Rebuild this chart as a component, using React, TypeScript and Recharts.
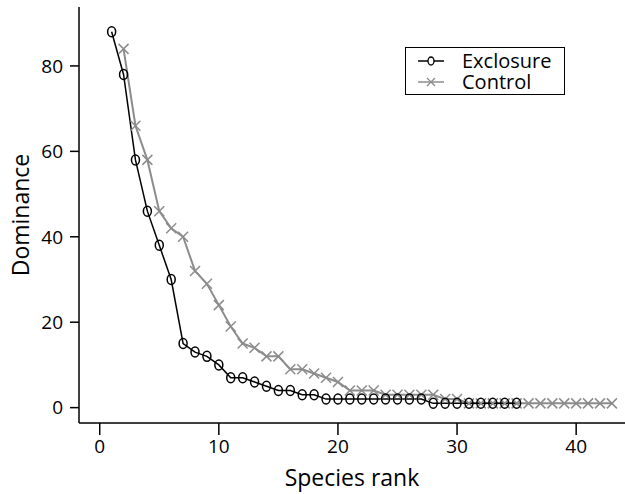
import { LineChart, Line, XAxis, YAxis, Legend } from 'recharts';

const exclosureRanks = [1, 2, 3, 4, 5, 6, 7, 8, 9, 10, 11, 12, 13, 14, 15, 16, 17, 18, 19, 20, 21, 22, 23, 24, 25, 26, 27, 28, 29, 30, 31, 32, 33, 34, 35];
const exclosureValues = [88, 78, 58, 46, 38, 30, 15, 13, 12, 10, 7, 7, 6, 5, 4, 4, 3, 3, 2, 2, 2, 2, 2, 2, 2, 2, 2, 1, 1, 1, 1, 1, 1, 1, 1];

const controlRanks = [2, 3, 4, 5, 6, 7, 8, 9, 10, 11, 12, 13, 14, 15, 16, 17, 18, 19, 20, 21, 22, 23, 24, 25, 26, 27, 28, 29, 30, 31, 32, 33, 34, 35, 36, 37, 38, 39, 40, 41, 42, 43];
const controlValues = [84, 66, 58, 46, 42, 40, 32, 29, 24, 19, 15, 14, 12, 12, 9, 9, 8, 7, 6, 4, 4, 4, 3, 3, 3, 3, 3, 2, 2, 1, 1, 1, 1, 1, 1, 1, 1, 1, 1, 1, 1, 1];

const xTicks = [0, 10, 20, 30, 40];
const yTicks = [0, 20, 40, 60, 80];

const exclosureData = exclosureRanks.map((rank, i) => ({ rank, value: exclosureValues[i] }));
const controlData = controlRanks.map((rank, i) => ({ rank, value: controlValues[i] }));

const FONT = '"Open Sans", sans-serif';
const GREY = '#8c8c8c';

function CircleDot(props: any) {
  const { cx, cy, index } = props;
  if (cx == null || cy == null) return <g key={index} />;
  return <ellipse key={index} cx={cx} cy={cy} rx={4} ry={5} fill="none" stroke="#000" strokeWidth={1.5} />;
}

function CrossDot(props: any) {
  const { cx, cy, index } = props;
  if (cx == null || cy == null) return <g key={index} />;
  const s = 5;
  return (
    <path
      key={index}
      d={`M${cx - s},${cy - s}L${cx + s},${cy + s}M${cx - s},${cy + s}L${cx + s},${cy - s}`}
      stroke={GREY}
      strokeWidth={1.5}
      fill="none"
    />
  );
}

function LegendBox() {
  const row = { display: 'flex', alignItems: 'center', height: 21 } as const;
  const label = { display: 'block', height: 21, lineHeight: '21px', overflow: 'visible' } as const;
  return (
    <div
      style={{
        border: '1.5px solid #000',
        width: 160,
        height: 48,
        boxSizing: 'border-box',
        padding: '2px 0 0 12px',
        fontFamily: FONT,
        fontSize: 20,
        lineHeight: '21px',
        background: '#fff',
      }}
    >
      <div style={row}>
        <svg width={26} height={14} style={{ marginRight: 18 }}>
          <line x1={0} y1={7} x2={26} y2={7} stroke="#000" strokeWidth={1.5} />
          <ellipse cx={13} cy={7} rx={3} ry={4} fill="#fff" stroke="#000" strokeWidth={1.3} />
        </svg>
        <span style={label}>Exclosure</span>
      </div>
      <div style={row}>
        <svg width={26} height={14} style={{ marginRight: 18 }}>
          <line x1={0} y1={7} x2={26} y2={7} stroke={GREY} strokeWidth={1.5} />
          <path d="M9,3L17,11M9,11L17,3" stroke={GREY} strokeWidth={1.3} />
        </svg>
        <span style={label}>Control</span>
      </div>
    </div>
  );
}

export default function App() {
  return (
    <div style={{ width: 625, height: 494, background: '#fff' }}>
      <style>{'body{margin:0}'}</style>
      <LineChart width={625} height={494} margin={{ top: 7, right: 0, bottom: 11, left: 0 }}>
        <XAxis
          type="number"
          dataKey="rank"
          domain={[-1.74, 44.1]}
          ticks={xTicks}
          allowDataOverflow
          height={60}
          tickSize={12}
          tickMargin={5}
          stroke="#000"
          strokeWidth={1.5}
          tick={{ fill: '#000', fontSize: 19, fontFamily: FONT }}
          label={{ value: 'Species rank', position: 'insideBottom', offset: -3, fill: '#000', fontSize: 23, fontFamily: FONT }}
        />
        <YAxis
          type="number"
          domain={[-3.6, 93.8]}
          ticks={yTicks}
          allowDataOverflow
          width={79}
          tickSize={9}
          tickMargin={7}
          stroke="#000"
          strokeWidth={1.5}
          tick={{ fill: '#000', fontSize: 19, fontFamily: FONT }}
          label={{ value: 'Dominance', angle: -90, position: 'insideLeft', offset: 21, fill: '#000', fontSize: 23, fontFamily: FONT, style: { textAnchor: 'middle' } }}
        />
        <Legend
          layout="vertical"
          align="center"
          verticalAlign="middle"
          content={() => <LegendBox />}
          wrapperStyle={{ left: 405, top: 47, width: 162, height: 49 }}
        />
        <Line
          data={controlData}
          dataKey="value"
          name="Control"
          stroke={GREY}
          strokeWidth={2}
          dot={CrossDot}
          activeDot={false}
          isAnimationActive={false}
        />
        <Line
          data={exclosureData}
          dataKey="value"
          name="Exclosure"
          stroke="#000"
          strokeWidth={1.5}
          dot={CircleDot}
          activeDot={false}
          isAnimationActive={false}
        />
      </LineChart>
    </div>
  );
}
